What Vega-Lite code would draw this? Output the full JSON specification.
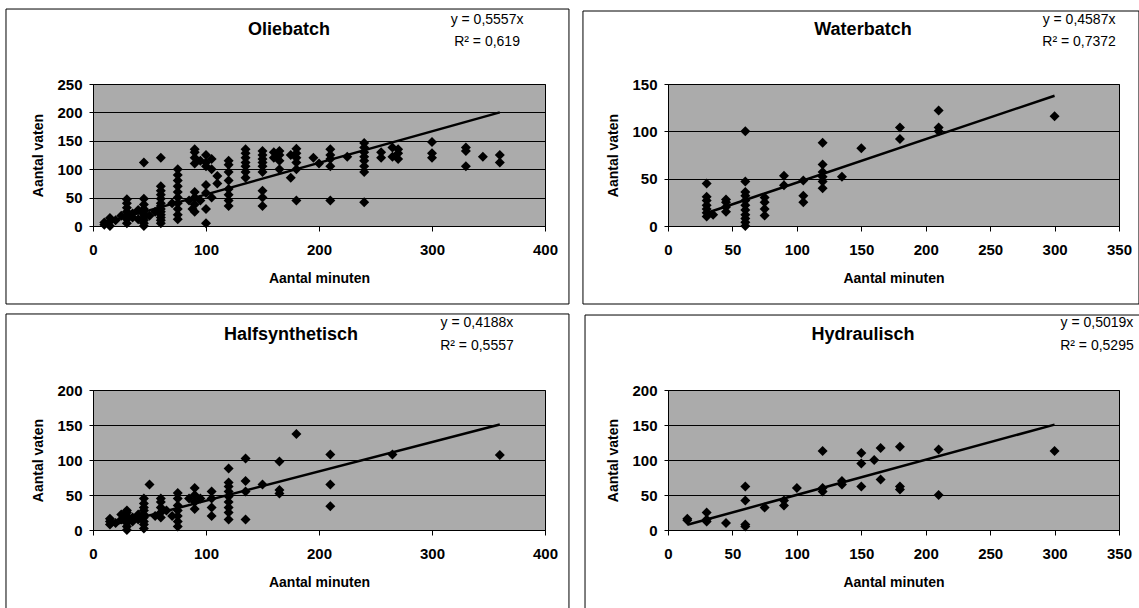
{
"$schema": "https://vega.github.io/schema/vega-lite/v6.json",
"background": "white",
"padding": {"left": 4, "top": 8, "right": 0, "bottom": 0},
"bounds": "flush",
"columns": 2,
"spacing": {"row": 164, "column": 123},
"config": {
  "font": "Liberation Sans",
  "view": {"fill": "#ababab", "stroke": "black", "strokeWidth": 1},
  "axis": {"domainColor": "black", "tickColor": "black", "gridColor": "black", "gridWidth": 1, "gridOpacity": 1, "labelColor": "black", "titleColor": "black", "labelFont": "Liberation Sans", "titleFont": "Liberation Sans", "labelFontSize": 15, "titleFontSize": 14, "labelFontWeight": "bold", "titleFontWeight": "bold", "labelOverlap": false, "tickCount": 12},
  "axisX": {"grid": false, "tickSize": 5, "labelPadding": 11, "titlePadding": 14, "labelFlush": false},
  "axisY": {"grid": true, "tickSize": 4, "labelPadding": 7, "titlePadding": 11},
  "text": {"font": "Liberation Sans", "fontSize": 14, "align": "center", "baseline": "middle", "color": "black"}
},
"datasets": {
  "olie": [
    {"minuten":10,"vaten":2},{"minuten":10,"vaten":6},{"minuten":15,"vaten":0},{"minuten":15,"vaten":8},{"minuten":15,"vaten":14},{"minuten":20,"vaten":10},{"minuten":25,"vaten":18},
    {"minuten":30,"vaten":5},{"minuten":30,"vaten":12},{"minuten":30,"vaten":18},{"minuten":30,"vaten":25},{"minuten":30,"vaten":32},{"minuten":30,"vaten":40},{"minuten":30,"vaten":47},
    {"minuten":35,"vaten":15},{"minuten":35,"vaten":22},{"minuten":40,"vaten":12},{"minuten":40,"vaten":28},
    {"minuten":45,"vaten":0},{"minuten":45,"vaten":5},{"minuten":45,"vaten":10},{"minuten":45,"vaten":15},{"minuten":45,"vaten":20},{"minuten":45,"vaten":25},{"minuten":45,"vaten":30},{"minuten":45,"vaten":38},{"minuten":45,"vaten":48},{"minuten":45,"vaten":112},
    {"minuten":50,"vaten":18},{"minuten":55,"vaten":25},
    {"minuten":60,"vaten":5},{"minuten":60,"vaten":10},{"minuten":60,"vaten":15},{"minuten":60,"vaten":20},{"minuten":60,"vaten":25},{"minuten":60,"vaten":30},{"minuten":60,"vaten":35},{"minuten":60,"vaten":40},{"minuten":60,"vaten":48},{"minuten":60,"vaten":55},{"minuten":60,"vaten":62},{"minuten":60,"vaten":70},{"minuten":60,"vaten":120},
    {"minuten":70,"vaten":40},
    {"minuten":75,"vaten":12},{"minuten":75,"vaten":20},{"minuten":75,"vaten":30},{"minuten":75,"vaten":40},{"minuten":75,"vaten":50},{"minuten":75,"vaten":60},{"minuten":75,"vaten":70},{"minuten":75,"vaten":80},{"minuten":75,"vaten":90},{"minuten":75,"vaten":100},
    {"minuten":85,"vaten":45},{"minuten":88,"vaten":30},
    {"minuten":90,"vaten":25},{"minuten":90,"vaten":38},{"minuten":90,"vaten":50},{"minuten":90,"vaten":60},{"minuten":90,"vaten":110},{"minuten":90,"vaten":120},{"minuten":90,"vaten":130},{"minuten":90,"vaten":135},
    {"minuten":95,"vaten":45},{"minuten":95,"vaten":115},
    {"minuten":100,"vaten":5},{"minuten":100,"vaten":30},{"minuten":100,"vaten":58},{"minuten":100,"vaten":72},{"minuten":100,"vaten":105},{"minuten":100,"vaten":112},{"minuten":100,"vaten":125},
    {"minuten":105,"vaten":50},{"minuten":105,"vaten":100},{"minuten":105,"vaten":118},{"minuten":110,"vaten":75},{"minuten":110,"vaten":88},
    {"minuten":120,"vaten":35},{"minuten":120,"vaten":45},{"minuten":120,"vaten":55},{"minuten":120,"vaten":65},{"minuten":120,"vaten":80},{"minuten":120,"vaten":95},{"minuten":120,"vaten":108},{"minuten":120,"vaten":115},
    {"minuten":135,"vaten":85},{"minuten":135,"vaten":95},{"minuten":135,"vaten":105},{"minuten":135,"vaten":112},{"minuten":135,"vaten":120},{"minuten":135,"vaten":128},{"minuten":135,"vaten":135},
    {"minuten":150,"vaten":35},{"minuten":150,"vaten":50},{"minuten":150,"vaten":62},{"minuten":150,"vaten":95},{"minuten":150,"vaten":105},{"minuten":150,"vaten":112},{"minuten":150,"vaten":118},{"minuten":150,"vaten":125},{"minuten":150,"vaten":132},
    {"minuten":160,"vaten":120},{"minuten":160,"vaten":130},{"minuten":165,"vaten":100},{"minuten":165,"vaten":115},{"minuten":165,"vaten":125},{"minuten":165,"vaten":132},
    {"minuten":175,"vaten":85},{"minuten":175,"vaten":125},
    {"minuten":180,"vaten":45},{"minuten":180,"vaten":100},{"minuten":180,"vaten":112},{"minuten":180,"vaten":120},{"minuten":180,"vaten":128},{"minuten":180,"vaten":136},
    {"minuten":195,"vaten":120},{"minuten":200,"vaten":110},
    {"minuten":210,"vaten":45},{"minuten":210,"vaten":105},{"minuten":210,"vaten":118},{"minuten":210,"vaten":125},{"minuten":210,"vaten":135},{"minuten":225,"vaten":122},
    {"minuten":240,"vaten":42},{"minuten":240,"vaten":95},{"minuten":240,"vaten":105},{"minuten":240,"vaten":115},{"minuten":240,"vaten":122},{"minuten":240,"vaten":130},{"minuten":240,"vaten":138},{"minuten":240,"vaten":146},
    {"minuten":255,"vaten":120},{"minuten":255,"vaten":130},{"minuten":265,"vaten":122},{"minuten":265,"vaten":138},{"minuten":270,"vaten":118},{"minuten":270,"vaten":128},{"minuten":270,"vaten":135},
    {"minuten":300,"vaten":120},{"minuten":300,"vaten":128},{"minuten":300,"vaten":148},
    {"minuten":330,"vaten":105},{"minuten":330,"vaten":132},{"minuten":330,"vaten":138},{"minuten":345,"vaten":122},{"minuten":360,"vaten":112},{"minuten":360,"vaten":125}
  ],
  "olie_trend": [{"minuten":10,"vaten":5.56},{"minuten":360,"vaten":200.05}],
  "water": [
    {"minuten":30,"vaten":10},{"minuten":30,"vaten":14},{"minuten":30,"vaten":18},{"minuten":30,"vaten":22},{"minuten":30,"vaten":27},{"minuten":30,"vaten":31},{"minuten":30,"vaten":45},{"minuten":35,"vaten":12},
    {"minuten":45,"vaten":15},{"minuten":45,"vaten":20},{"minuten":45,"vaten":25},{"minuten":45,"vaten":28},
    {"minuten":60,"vaten":0},{"minuten":60,"vaten":4},{"minuten":60,"vaten":8},{"minuten":60,"vaten":12},{"minuten":60,"vaten":17},{"minuten":60,"vaten":22},{"minuten":60,"vaten":27},{"minuten":60,"vaten":32},{"minuten":60,"vaten":36},{"minuten":60,"vaten":47},{"minuten":60,"vaten":100},
    {"minuten":75,"vaten":11},{"minuten":75,"vaten":18},{"minuten":75,"vaten":25},{"minuten":75,"vaten":30},
    {"minuten":90,"vaten":43},{"minuten":90,"vaten":53},{"minuten":105,"vaten":25},{"minuten":105,"vaten":32},{"minuten":105,"vaten":48},
    {"minuten":120,"vaten":40},{"minuten":120,"vaten":47},{"minuten":120,"vaten":52},{"minuten":120,"vaten":57},{"minuten":120,"vaten":65},{"minuten":120,"vaten":88},
    {"minuten":135,"vaten":52},{"minuten":150,"vaten":82},{"minuten":180,"vaten":92},{"minuten":180,"vaten":104},
    {"minuten":210,"vaten":100},{"minuten":210,"vaten":104},{"minuten":210,"vaten":122},{"minuten":300,"vaten":116}
  ],
  "water_trend": [{"minuten":30,"vaten":13.76},{"minuten":300,"vaten":137.61}],
  "half": [
    {"minuten":15,"vaten":8},{"minuten":15,"vaten":12},{"minuten":15,"vaten":16},{"minuten":20,"vaten":10},{"minuten":25,"vaten":15},{"minuten":25,"vaten":22},
    {"minuten":30,"vaten":0},{"minuten":30,"vaten":5},{"minuten":30,"vaten":10},{"minuten":30,"vaten":15},{"minuten":30,"vaten":20},{"minuten":30,"vaten":25},{"minuten":30,"vaten":28},
    {"minuten":35,"vaten":12},{"minuten":35,"vaten":18},{"minuten":40,"vaten":15},{"minuten":40,"vaten":22},
    {"minuten":45,"vaten":2},{"minuten":45,"vaten":8},{"minuten":45,"vaten":12},{"minuten":45,"vaten":18},{"minuten":45,"vaten":22},{"minuten":45,"vaten":28},{"minuten":45,"vaten":32},{"minuten":45,"vaten":38},{"minuten":45,"vaten":45},
    {"minuten":50,"vaten":65},{"minuten":55,"vaten":20},
    {"minuten":60,"vaten":18},{"minuten":60,"vaten":25},{"minuten":60,"vaten":32},{"minuten":60,"vaten":40},{"minuten":60,"vaten":45},{"minuten":65,"vaten":28},{"minuten":70,"vaten":20},
    {"minuten":75,"vaten":5},{"minuten":75,"vaten":12},{"minuten":75,"vaten":20},{"minuten":75,"vaten":28},{"minuten":75,"vaten":35},{"minuten":75,"vaten":45},{"minuten":75,"vaten":53},
    {"minuten":85,"vaten":45},{"minuten":90,"vaten":30},{"minuten":90,"vaten":40},{"minuten":90,"vaten":50},{"minuten":90,"vaten":60},{"minuten":95,"vaten":45},
    {"minuten":105,"vaten":20},{"minuten":105,"vaten":32},{"minuten":105,"vaten":45},{"minuten":105,"vaten":55},
    {"minuten":120,"vaten":15},{"minuten":120,"vaten":25},{"minuten":120,"vaten":32},{"minuten":120,"vaten":40},{"minuten":120,"vaten":48},{"minuten":120,"vaten":55},{"minuten":120,"vaten":62},{"minuten":120,"vaten":68},{"minuten":120,"vaten":88},
    {"minuten":135,"vaten":15},{"minuten":135,"vaten":55},{"minuten":135,"vaten":70},{"minuten":135,"vaten":102},{"minuten":150,"vaten":65},
    {"minuten":165,"vaten":52},{"minuten":165,"vaten":57},{"minuten":165,"vaten":98},{"minuten":180,"vaten":137},
    {"minuten":210,"vaten":34},{"minuten":210,"vaten":65},{"minuten":210,"vaten":108},{"minuten":265,"vaten":108},{"minuten":360,"vaten":107}
  ],
  "half_trend": [{"minuten":15,"vaten":6.28},{"minuten":360,"vaten":150.77}],
  "hydr": [
    {"minuten":15,"vaten":14},{"minuten":15,"vaten":16},{"minuten":30,"vaten":12},{"minuten":30,"vaten":15},{"minuten":30,"vaten":25},{"minuten":45,"vaten":10},
    {"minuten":60,"vaten":5},{"minuten":60,"vaten":8},{"minuten":60,"vaten":42},{"minuten":60,"vaten":62},{"minuten":75,"vaten":32},{"minuten":90,"vaten":35},{"minuten":90,"vaten":42},{"minuten":100,"vaten":60},
    {"minuten":120,"vaten":55},{"minuten":120,"vaten":60},{"minuten":120,"vaten":113},{"minuten":135,"vaten":65},{"minuten":135,"vaten":70},
    {"minuten":150,"vaten":62},{"minuten":150,"vaten":95},{"minuten":150,"vaten":110},{"minuten":160,"vaten":100},{"minuten":165,"vaten":72},{"minuten":165,"vaten":117},
    {"minuten":180,"vaten":58},{"minuten":180,"vaten":62},{"minuten":180,"vaten":119},{"minuten":210,"vaten":50},{"minuten":210,"vaten":115},{"minuten":300,"vaten":113}
  ],
  "hydr_trend": [{"minuten":15,"vaten":7.53},{"minuten":300,"vaten":150.57}]
},
"concat": [
  {
    "width": 452, "height": 142,
    "layer": [
      {"data": {"name": "olie"}, "mark": {"type": "point", "shape": "diamond", "filled": true, "color": "black", "size": 100, "opacity": 1},
       "encoding": {
         "x": {"field": "minuten", "type": "quantitative", "title": "Aantal minuten", "scale": {"domain": [0, 400], "nice": false, "zero": false}, "axis": {"values": [0, 100, 200, 300, 400], "tickCount": 12}},
         "y": {"field": "vaten", "type": "quantitative", "title": "Aantal vaten", "scale": {"domain": [0, 250], "nice": false, "zero": false}, "axis": {"values": [0, 50, 100, 150, 200, 250], "tickCount": 12}}}},
      {"data": {"name": "olie_trend"}, "mark": {"type": "line", "color": "black", "strokeWidth": 2.5},
       "encoding": {"x": {"field": "minuten", "type": "quantitative", "title": "Aantal minuten"}, "y": {"field": "vaten", "type": "quantitative", "title": "Aantal vaten"}}},
      {"data": {"values": [{}]}, "mark": {"type": "rect", "fill": "transparent", "stroke": "black", "strokeWidth": 1},
       "encoding": {"x": {"datum": -77, "type": "quantitative"}, "x2": {"datum": 421.2}, "y": {"datum": 382, "type": "quantitative"}, "y2": {"datum": -137.3}}},
      {"data": {"values": [{}]}, "mark": {"type": "text", "text": "Oliebatch", "fontSize": 18, "fontWeight": "bold"},
       "encoding": {"x": {"datum": 173.5, "type": "quantitative"}, "y": {"datum": 345.1, "type": "quantitative"}}},
      {"data": {"values": [{}]}, "mark": {"type": "text", "text": "y = 0,5557x"},
       "encoding": {"x": {"datum": 348.7, "type": "quantitative"}, "y": {"datum": 362.7, "type": "quantitative"}}},
      {"data": {"values": [{}]}, "mark": {"type": "text", "text": "R² = 0,619"},
       "encoding": {"x": {"datum": 348.7, "type": "quantitative"}, "y": {"datum": 323.9, "type": "quantitative"}}}
    ]
  },
  {
    "width": 451, "height": 142,
    "layer": [
      {"data": {"name": "water"}, "mark": {"type": "point", "shape": "diamond", "filled": true, "color": "black", "size": 100, "opacity": 1},
       "encoding": {
         "x": {"field": "minuten", "type": "quantitative", "title": "Aantal minuten", "scale": {"domain": [0, 350], "nice": false, "zero": false}, "axis": {"values": [0, 50, 100, 150, 200, 250, 300, 350], "tickCount": 12}},
         "y": {"field": "vaten", "type": "quantitative", "title": "Aantal vaten", "scale": {"domain": [0, 150], "nice": false, "zero": false}, "axis": {"values": [0, 50, 100, 150], "tickCount": 12}}}},
      {"data": {"name": "water_trend"}, "mark": {"type": "line", "color": "black", "strokeWidth": 2.5},
       "encoding": {"x": {"field": "minuten", "type": "quantitative", "title": "Aantal minuten"}, "y": {"field": "vaten", "type": "quantitative", "title": "Aantal vaten"}}},
      {"data": {"values": [{}]}, "mark": {"type": "rect", "fill": "transparent", "stroke": "black", "strokeWidth": 1},
       "encoding": {"x": {"datum": -66, "type": "quantitative"}, "x2": {"datum": 365.5}, "y": {"datum": 227.1, "type": "quantitative"}, "y2": {"datum": -82.4}}},
      {"data": {"values": [{}]}, "mark": {"type": "text", "text": "Waterbatch", "fontSize": 18, "fontWeight": "bold"},
       "encoding": {"x": {"datum": 151.3, "type": "quantitative"}, "y": {"datum": 207.0, "type": "quantitative"}}},
      {"data": {"values": [{}]}, "mark": {"type": "text", "text": "y = 0,4587x"},
       "encoding": {"x": {"datum": 319, "type": "quantitative"}, "y": {"datum": 217.6, "type": "quantitative"}}},
      {"data": {"values": [{}]}, "mark": {"type": "text", "text": "R² = 0,7372"},
       "encoding": {"x": {"datum": 319, "type": "quantitative"}, "y": {"datum": 194.4, "type": "quantitative"}}}
    ]
  },
  {
    "width": 452, "height": 140,
    "layer": [
      {"data": {"name": "half"}, "mark": {"type": "point", "shape": "diamond", "filled": true, "color": "black", "size": 100, "opacity": 1},
       "encoding": {
         "x": {"field": "minuten", "type": "quantitative", "title": "Aantal minuten", "scale": {"domain": [0, 400], "nice": false, "zero": false}, "axis": {"values": [0, 100, 200, 300, 400], "tickCount": 12}},
         "y": {"field": "vaten", "type": "quantitative", "title": "Aantal vaten", "scale": {"domain": [0, 200], "nice": false, "zero": false}, "axis": {"values": [0, 50, 100, 150, 200], "tickCount": 12}}}},
      {"data": {"name": "half_trend"}, "mark": {"type": "line", "color": "black", "strokeWidth": 2.5},
       "encoding": {"x": {"field": "minuten", "type": "quantitative", "title": "Aantal minuten"}, "y": {"field": "vaten", "type": "quantitative", "title": "Aantal vaten"}}},
      {"data": {"values": [{}]}, "mark": {"type": "rect", "fill": "transparent", "stroke": "black", "strokeWidth": 1},
       "encoding": {"x": {"datum": -77, "type": "quantitative"}, "x2": {"datum": 421.2}, "y": {"datum": 308.6, "type": "quantitative"}, "y2": {"datum": -122.9}}},
      {"data": {"values": [{}]}, "mark": {"type": "text", "text": "Halfsynthetisch", "fontSize": 18, "fontWeight": "bold"},
       "encoding": {"x": {"datum": 175.2, "type": "quantitative"}, "y": {"datum": 278.6, "type": "quantitative"}}},
      {"data": {"values": [{}]}, "mark": {"type": "text", "text": "y = 0,4188x"},
       "encoding": {"x": {"datum": 339.8, "type": "quantitative"}, "y": {"datum": 295.7, "type": "quantitative"}}},
      {"data": {"values": [{}]}, "mark": {"type": "text", "text": "R² = 0,5557"},
       "encoding": {"x": {"datum": 339.8, "type": "quantitative"}, "y": {"datum": 262.9, "type": "quantitative"}}}
    ]
  },
  {
    "width": 451, "height": 140,
    "layer": [
      {"data": {"name": "hydr"}, "mark": {"type": "point", "shape": "diamond", "filled": true, "color": "black", "size": 100, "opacity": 1},
       "encoding": {
         "x": {"field": "minuten", "type": "quantitative", "title": "Aantal minuten", "scale": {"domain": [0, 350], "nice": false, "zero": false}, "axis": {"values": [0, 50, 100, 150, 200, 250, 300, 350], "tickCount": 12}},
         "y": {"field": "vaten", "type": "quantitative", "title": "Aantal vaten", "scale": {"domain": [0, 200], "nice": false, "zero": false}, "axis": {"values": [0, 50, 100, 150, 200], "tickCount": 12}}}},
      {"data": {"name": "hydr_trend"}, "mark": {"type": "line", "color": "black", "strokeWidth": 2.5},
       "encoding": {"x": {"field": "minuten", "type": "quantitative", "title": "Aantal minuten"}, "y": {"field": "vaten", "type": "quantitative", "title": "Aantal vaten"}}},
      {"data": {"values": [{}]}, "mark": {"type": "rect", "fill": "transparent", "stroke": "black", "strokeWidth": 1},
       "encoding": {"x": {"datum": -64.4, "type": "quantitative"}, "x2": {"datum": 366.3}, "y": {"datum": 307.1, "type": "quantitative"}, "y2": {"datum": -122.9}}},
      {"data": {"values": [{}]}, "mark": {"type": "text", "text": "Hydraulisch", "fontSize": 18, "fontWeight": "bold"},
       "encoding": {"x": {"datum": 151.3, "type": "quantitative"}, "y": {"datum": 278.6, "type": "quantitative"}}},
      {"data": {"values": [{}]}, "mark": {"type": "text", "text": "y = 0,5019x"},
       "encoding": {"x": {"datum": 332.9, "type": "quantitative"}, "y": {"datum": 295.7, "type": "quantitative"}}},
      {"data": {"values": [{}]}, "mark": {"type": "text", "text": "R² = 0,5295"},
       "encoding": {"x": {"datum": 332.9, "type": "quantitative"}, "y": {"datum": 262.9, "type": "quantitative"}}}
    ]
  }
]
}
